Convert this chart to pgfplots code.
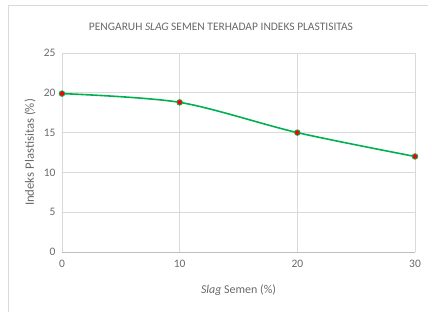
\documentclass[border=0pt]{standalone}
\usepackage{pgfplots}
\pgfplotsset{compat=1.18}
\usepackage{fontspec}
\setmainfont{Carlito}
\definecolor{txt}{RGB}{105,105,105}
\definecolor{grd}{RGB}{217,217,217}
\definecolor{lgreen}{HTML}{00B050}
\begin{document}
\begin{tikzpicture}
\useasboundingbox (-62bp,-60bp) rectangle (366bp,252bp);
\draw[grd, line width=0.8pt] (-54bp,-62bp) -- (-54bp,247bp) -- (370bp,247bp);
\begin{axis}[
  at={(0,0)}, anchor=south west,
  scale only axis, width=353bp, height=199bp,
  xmin=0, xmax=30, ymin=0, ymax=25,
  xtick={0,10,20,30}, ytick={0,5,10,15,20,25},
  grid=major, major grid style={grd, line width=0.8pt},
  axis line style={draw=none},
  tick style={draw=none},
  ticklabel style={font=\fontsize{11.5}{13}\selectfont, text=txt},
  /pgf/number format/assume math mode=true,
  xticklabel style={yshift=-5bp},
  yticklabel style={xshift=-3bp},
  xlabel={\textit{Slag} Semen (\%)},
  ylabel={Indeks Plastisitas (\%)},
  xlabel style={font=\fontsize{12}{14}\selectfont, text=txt, at={(0.5,0)}, anchor=center, yshift=-38bp},
  ylabel style={font=\fontsize{12.8}{14}\selectfont, text=txt, at={(0,0.5)}, anchor=center, xshift=0bp, yshift=32bp},
  clip=false,
]
\draw[grd!70!gray, line width=0.9pt] (axis cs:0,0) -- (axis cs:30,0);
\addplot[lgreen, line width=1.6pt, smooth, tension=0.5,
  mark=*, mark size=2.8pt, mark options={fill=red, draw=lgreen, line width=0.8pt}]
  coordinates {(0,19.9) (10,18.8) (20,15.0) (30,12.0)};
\end{axis}
\node[text=txt, font=\fontsize{11.5}{13}\selectfont] at (159bp,225bp) {PENGARUH \textit{SLAG} SEMEN TERHADAP INDEKS PLASTISITAS};
\end{tikzpicture}
\end{document}
